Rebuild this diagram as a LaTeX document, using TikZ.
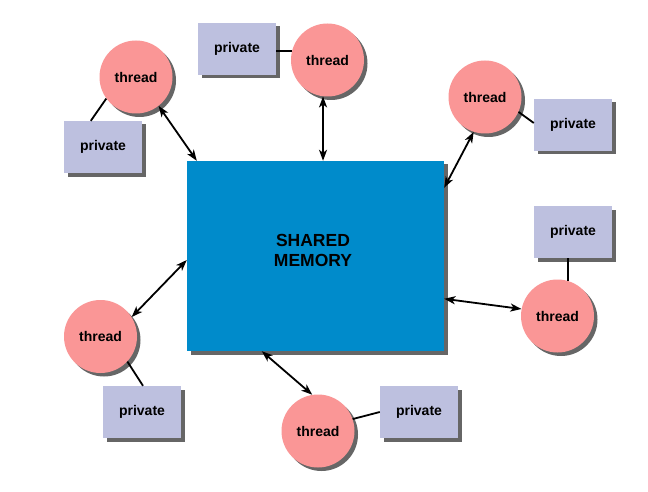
\documentclass[tikz,border=0pt]{standalone}
\usepackage{fontspec}
\setmainfont{Liberation Sans}
\usetikzlibrary{arrows.meta,calc,shadows}
\definecolor{ThreadClr}{RGB}{250,150,150}
\definecolor{PrivClr}{RGB}{189,192,223}
\definecolor{MemClr}{RGB}{0,139,203}

\begin{document}
\begin{tikzpicture}[x=1pt,y=-1pt,
  font=\bfseries\fontsize{14}{16}\selectfont,
  dropshd/.style={drop shadow={shadow xshift=3.5pt,shadow yshift=-3.5pt,fill=black,opacity=.6}},
  thread/.style={circle,fill=ThreadClr,minimum size=73pt,inner sep=0pt,dropshd},
  priv/.style={rectangle,fill=PrivClr,minimum width=78pt,minimum height=52pt,inner sep=0pt,dropshd},
  mem/.style={rectangle,fill=MemClr,minimum width=257pt,minimum height=190pt,inner sep=0pt,dropshd},
  link/.style={{Stealth[length=11pt,width=8pt,inset=3pt]}-{Stealth[length=11pt,width=8pt,inset=3pt]},line width=1.8pt},
  tie/.style={line width=1.8pt}]

\fill[white] (0,0) rectangle (648,492);
\useasboundingbox (0,0) rectangle (648,492);

\node[mem] (M) at (315.5,256) {};
\node[align=center,font=\bfseries\fontsize{17.5}{20}\selectfont] (ML) at (313,250) {SHARED\\MEMORY};

\node[priv] (P1) at (103,147) {private};
\node[priv] (P2) at (237,49) {private};
\node[priv] (P3) at (573,125) {private};
\node[priv] (P4) at (573,232) {private};
\node[priv] (P5) at (142,412) {private};
\node[priv] (P6) at (419,412) {private};

\node[thread] (T1) at (136,77) {thread};
\node[thread] (T2) at (327.5,60) {thread};
\node[thread] (T3) at (485,97) {thread};
\node[thread] (T4) at (557.5,316) {thread};
\node[thread] (T5) at (100.5,336.5) {thread};
\node[thread] (T6) at (318,431) {thread};

\draw[tie] (T1.-144) -- ($(P1.north west)+(27,0)$);
\draw[tie] (T2.166) -- (T2.166 -| P2.east);
\draw[tie] (T3.-24) -- ($(P3.west)+(0,-2)$);
\draw[tie] (T4.73) -- (T4.73 |- P4.south);
\draw[tie] (T5.-43) -- ($(P5.north)+(1,0)$);
\draw[tie] (T6.19) -- (P6.west);

\draw[link] (T1.-52) -- ($(M.north west)+(10,0)$);
\draw[link] (T2.-97) -- (T2.-97 |- M.north);
\draw[link] (T3.-108) -- ($(M.north east)+(0,27)$);
\draw[link] (T4.169) -- ($(M.north east)+(0,138)$);
\draw[link] (T5.32) -- ($(M.west)+(0,4)$);
\draw[link] (T6.99) -- ($(M.south west)+(75,0)$);

\end{tikzpicture}
\end{document}
